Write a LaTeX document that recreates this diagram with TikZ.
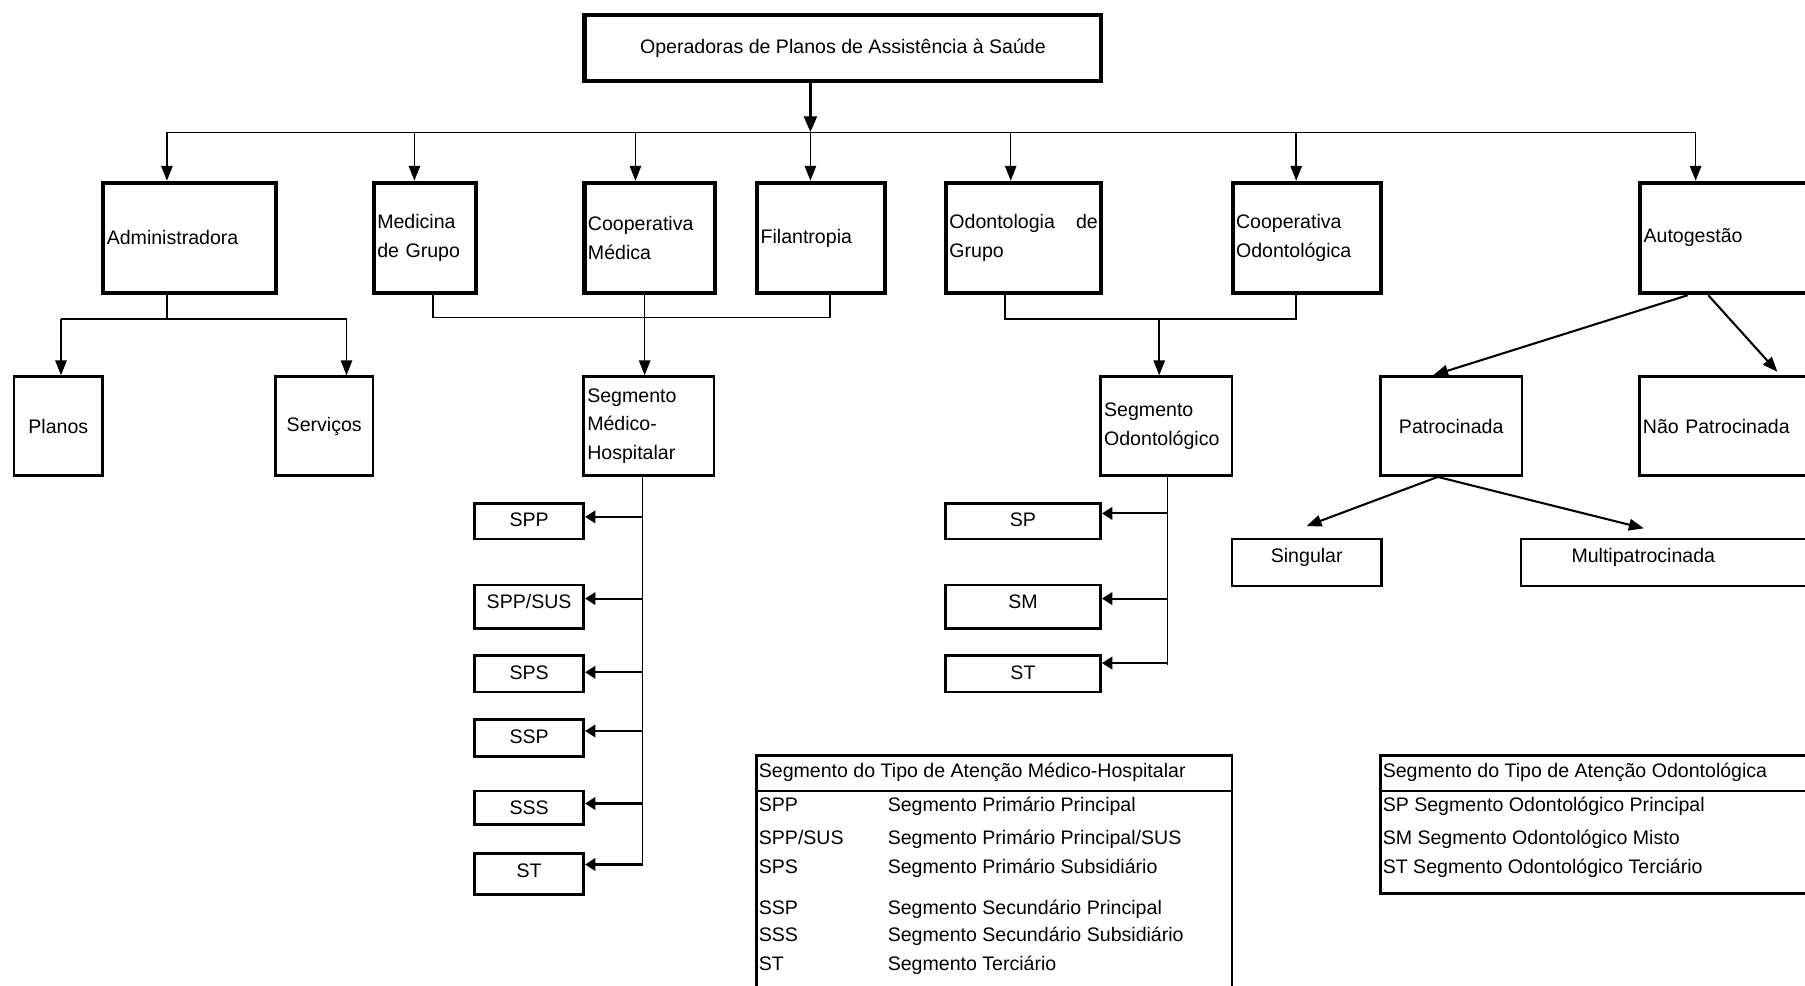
\documentclass[tikz,border=0pt]{standalone}
\usepackage{fontspec}
\setmainfont{Liberation Sans}
\usetikzlibrary{arrows.meta}

\begin{document}
\begin{tikzpicture}[x=1pt,y=-1pt,
  font=\fontsize{17pt}{24.5pt}\selectfont,
  every node/.style={inner xsep=3pt, inner ysep=0pt, anchor=north west},
  heavybox/.style={draw, line width=3.5pt},
  lightbox/.style={draw, line width=2.3pt},
  wire/.style={line width=1.3pt},
  down/.style={wire, -{Triangle[length=13pt,width=10pt]}},
  side/.style={line width=1.8pt, -{Triangle[length=9pt,width=11pt]}},
  slant/.style={line width=1.8pt, -{Triangle[length=13pt,width=10pt]}},
  legtext/.style={anchor=base west, inner xsep=0pt},
]
\useasboundingbox (0,0) rectangle (1568,856);
\clip (0,0) rectangle (1568,856);

% root
\node[heavybox, minimum width=449pt, minimum height=58pt, align=center] (top) at (506,11)
  {Operadoras de Planos de Assistência à Saúde};

% first level
\node[heavybox, minimum width=150pt, minimum height=96pt, text width=144pt, align=left] (adm) at (88,157) {Administradora};
\node[heavybox, minimum width=89pt, minimum height=96pt, text width=83pt, align=left] (med) at (323,157) {Medicina\\de Grupo};
\node[heavybox, minimum width=113pt, minimum height=96pt, text width=107pt, align=left] (coopm) at (506,157) {Cooperativa\\Médica};
\node[heavybox, minimum width=111pt, minimum height=96pt, text width=105pt, align=left] (fil) at (656,157) {Filantropia};
\node[heavybox, minimum width=135pt, minimum height=96pt, text width=129pt, align=left] (odg) at (820,157) {\makebox[129pt][s]{Odontologia\hfill de}\\Grupo};
\node[heavybox, minimum width=129pt, minimum height=96pt, text width=123pt, align=left] (coopo) at (1069,157) {Cooperativa\\Odontológica};
\node[heavybox, minimum width=160pt, minimum height=96pt, text width=154pt, align=left] (auto) at (1423,157) {Autogestão};

% distribution bus
\coordinate (b1) at (145,115);
\coordinate (b2) at (360,115);
\coordinate (b3) at (552,115);
\coordinate (b4) at (704,115);
\coordinate (b5) at (878,115);
\coordinate (b6) at (1126,115);
\coordinate (b7) at (1473,115);
\draw[line width=3pt, -{Triangle[length=14pt,width=11pt]}] (top.south -| b4) -- (b4);
\draw[wire] (b1) -- (b7);
\foreach \b/\n in {b1/adm, b2/med, b3/coopm, b4/fil, b5/odg, b6/coopo, b7/auto}
  \draw[down] (\b) -- (\n.north -| \b);

% second level
\node[lightbox, minimum width=77pt, minimum height=86pt, align=center] (planos) at (11,326) {Planos};
\node[lightbox, minimum width=85pt, minimum height=86pt, align=center] (serv) at (238,326) {Serviços};
\node[lightbox, minimum width=113pt, minimum height=86pt, text width=107pt, align=left] (segmh) at (506,326) {Segmento\\Médico-\\Hospitalar};
\node[lightbox, minimum width=114pt, minimum height=86pt, text width=108pt, align=left] (segod) at (955,326) {Segmento\\Odontológico};
\node[lightbox, minimum width=123pt, minimum height=86pt, align=center] (patr) at (1198,326) {Patrocinada};
\node[lightbox, minimum width=160pt, minimum height=86pt, text width=154pt, align=left] (naop) at (1423,326) {Não Patrocinada};

% Administradora split
\coordinate (a0) at (145,277);
\coordinate (a1) at (53,277);
\coordinate (a2) at (301,277);
\draw[wire] (adm.south -| a0) -- (a0);
\draw[wire] (a1) -- (a2);
\draw[down] (a1) -- (planos.north -| a1);
\draw[down] (a2) -- (serv.north -| a2);

% medical group bracket
\coordinate (m1) at (376,276);
\coordinate (m2) at (721,276);
\coordinate (cm) at (560,276);
\draw[wire] (med.south -| m1) -- (m1) -- (m2) -- (fil.south -| m2);
\draw[down] (coopm.south -| cm) -- (segmh.north -| cm);

% dental group bracket
\coordinate (o1) at (873,277);
\coordinate (o2) at (1126,277);
\coordinate (o3) at (1007,277);
\draw[wire] (odg.south -| o1) -- (o1) -- (o2) -- (coopo.south -| o2);
\draw[down] (o3) -- (segod.north -| o3);

% self-management branches
\coordinate (g1) at (1466,0);
\coordinate (g2) at (1484,0);
\coordinate (pt) at (1245,0);
\coordinate (pn) at (1544,323);
\draw[slant] (auto.south -| g1) -- (patr.north -| pt);
\draw[slant] (auto.south -| g2) -- (pn);

\node[lightbox, minimum width=130pt, minimum height=41pt, align=center, text height=20.5pt, text depth=20.5pt] (sing) at (1069,467) {Singular};
\node[lightbox, minimum width=260pt, minimum height=41pt, text width=254pt, align=left, text height=20.5pt, text depth=20.5pt] (multi) at (1320,467) {\hspace*{41pt}Multipatrocinada};
\coordinate (ps) at (1249,0);
\coordinate (si) at (1135,457);
\coordinate (mu) at (1428,459);
\draw[slant] (patr.south -| ps) -- (si);
\draw[slant] (patr.south -| ps) -- (mu);

% medical-hospital segments
\node[lightbox, minimum width=95pt, minimum height=31pt, align=center, text height=20.5pt, text depth=10.5pt] (spp) at (411,436) {SPP};
\node[lightbox, minimum width=95pt, minimum height=38pt, align=center, text height=20.5pt, text depth=17.5pt] (sppsus) at (411,507) {SPP/SUS};
\node[lightbox, minimum width=95pt, minimum height=32pt, align=center, text height=21.5pt, text depth=10.5pt] (sps) at (411,568) {SPS};
\node[lightbox, minimum width=95pt, minimum height=32pt, align=center, text height=20.5pt, text depth=11.5pt] (ssp) at (411,624) {SSP};
\node[lightbox, minimum width=95pt, minimum height=29pt, align=center, text height=20.5pt, text depth=8.5pt] (sss) at (411,686) {SSS};
\node[lightbox, minimum width=95pt, minimum height=36pt, align=center, text height=21pt, text depth=15pt] (stm) at (411,740) {ST};

\coordinate (v1) at (558,752);
\draw[wire] (segmh.south -| v1) -- (v1);
\coordinate (t1) at (558,449);
\coordinate (t2) at (558,520);
\coordinate (t3) at (558,584);
\coordinate (t4) at (558,635);
\coordinate (t5) at (558,698);
\coordinate (t6) at (558,751);
\foreach \t/\n in {t1/spp, t2/sppsus, t3/sps, t4/ssp, t5/sss, t6/stm}
  \draw[side] (\t) -- (\n.east |- \t);

% dental segments
\node[lightbox, minimum width=135pt, minimum height=31pt, align=center, text height=20.5pt, text depth=10.5pt] (sp) at (820,436) {SP};
\node[lightbox, minimum width=135pt, minimum height=38pt, align=center, text height=20.5pt, text depth=17.5pt] (sm) at (820,507) {SM};
\node[lightbox, minimum width=135pt, minimum height=32pt, align=center, text height=21.5pt, text depth=10.5pt] (sto) at (820,568) {ST};

\coordinate (w1) at (1014,578);
\draw[wire] (segod.south -| w1) -- (w1);
\coordinate (u1) at (1014,446);
\coordinate (u2) at (1014,520);
\coordinate (u3) at (1014,576);
\foreach \t/\n in {u1/sp, u2/sm, u3/sto}
  \draw[side] (\t) -- (\n.east |- \t);

% legend: medical-hospital care segments
\node[lightbox, minimum width=413pt, minimum height=240pt] (leg1) at (656,655) {};
\coordinate (d1) at (0,687);
\draw[line width=2.3pt] (leg1.west |- d1) -- (leg1.east |- d1);
\node[legtext] (h1) at (659,675) {Segmento do Tipo de Atenção Médico-Hospitalar};
\node[legtext] (k1) at (659,705) {SPP};
\node[legtext] (e1) at (771,705) {Segmento Primário Principal};
\node[legtext] (k2) at (659,734) {SPP/SUS};
\node[legtext] (e2) at (771,734) {Segmento Primário Principal/SUS};
\node[legtext] (k3) at (659,759) {SPS};
\node[legtext] (e3) at (771,759) {Segmento Primário Subsidiário};
\node[legtext] (k4) at (659,794) {SSP};
\node[legtext] (e4) at (771,794) {Segmento Secundário Principal};
\node[legtext] (k5) at (659,818) {SSS};
\node[legtext] (e5) at (771,818) {Segmento Secundário Subsidiário};
\node[legtext] (k6) at (659,843) {ST};
\node[legtext] (e6) at (771,843) {Segmento Terciário};

% legend: dental care segments
\node[lightbox, minimum width=400pt, minimum height=120pt] (leg2) at (1198,655) {};
\coordinate (d2) at (0,687);
\draw[line width=2.3pt] (leg2.west |- d2) -- (leg2.east |- d2);
\node[legtext] (h2) at (1201,675) {Segmento do Tipo de Atenção Odontológica};
\node[legtext] (f1) at (1201,705) {SP Segmento Odontológico Principal};
\node[legtext] (f2) at (1201,734) {SM Segmento Odontológico Misto};
\node[legtext] (f3) at (1201,759) {ST Segmento Odontológico Terciário};
\end{tikzpicture}
\end{document}
